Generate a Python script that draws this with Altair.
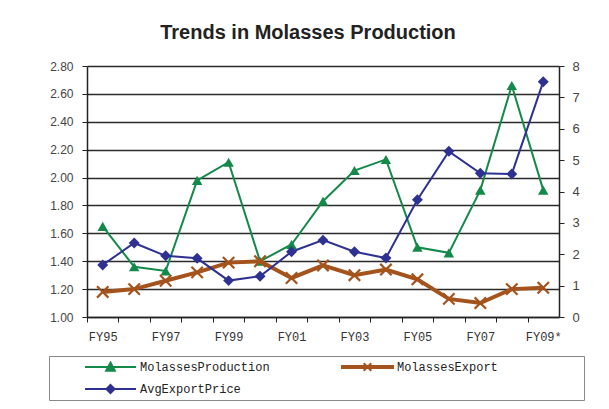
import altair as alt
import pandas as pd

categories = ["FY95", "FY96", "FY97", "FY98", "FY99", "FY00", "FY01", "FY02",
              "FY03", "FY04", "FY05", "FY06", "FY07", "FY08", "FY09*"]
production = [1.65, 1.36, 1.33, 1.98, 2.11, 1.40, 1.52, 1.83, 2.05, 2.13, 1.50, 1.46, 1.91, 2.66, 1.91]
export = [1.18, 1.20, 1.26, 1.32, 1.39, 1.40, 1.28, 1.37, 1.30, 1.34, 1.27, 1.13, 1.10, 1.20, 1.21]
price = [1.66, 2.36, 1.95, 1.87, 1.16, 1.30, 2.08, 2.45, 2.08, 1.88, 3.74, 5.28, 4.58, 4.56, 7.50]

series_names = ["MolassesProduction", "MolassesExport", "AvgExportPrice"]
series_colors = ["#13894a", "#a5531c", "#2e3192"]
legend_paths = [
    "M-1,0H1M-0.17,0.15L0,-0.17L0.17,0.15Z",
    "M-1,-0.04H1V0.04H-1ZM-0.15,-0.15L0.15,0.15M-0.15,0.15L0.15,-0.15",
    "M-1,0H1M0,-0.16L0.16,0L0,0.16L-0.16,0Z",
]
left_ticks = [1.0, 1.2, 1.4, 1.6, 1.8, 2.0, 2.2, 2.4, 2.6, 2.8]
right_ticks = [0, 1, 2, 3, 4, 5, 6, 7, 8]

W, H = 472, 251
half = W / len(categories) / 2

df = pd.DataFrame({"FY": categories, "production": production,
                   "export": export, "price": price})
legend_df = pd.DataFrame({"series": series_names})

x_enc = alt.X("FY:N", sort=categories,
              scale=alt.Scale(type="point", padding=0.5),
              axis=alt.Axis(title=None, tickOffset=-half, labelOffset=half,
                            labelExpr="parseInt(substring(datum.label,2,4)) % 2 == 1 ? datum.label : ''",
                            labelOverlap=False, labelAngle=0,
                            labelFont="Liberation Mono", labelFontSize=12, labelColor="#333",
                            labelPadding=9, tickSize=5, tickColor="#222",
                            domainColor="#222", domainWidth=1.5, grid=False))

left_scale = alt.Scale(domain=[1.0, 2.8], nice=False, zero=False)
left_axis = alt.Axis(title=None, orient="left", values=left_ticks, format=".2f",
                     grid=True, gridColor="#2a2a2a", gridWidth=1.3,
                     labelFont="Liberation Sans", labelFontSize=12, labelColor="#444",
                     labelPadding=9, tickSize=5, tickColor="#222",
                     domainColor="#222", domainWidth=1.5)
right_axis = alt.Axis(title=None, orient="right", values=right_ticks, format="d",
                      grid=False, labelFont="Liberation Sans", labelFontSize=13,
                      labelColor="#444", labelPadding=8, tickSize=5, tickColor="#222",
                      domainColor="#222", domainWidth=1.5)

base = alt.Chart(df)

green_line = base.mark_line(color=series_colors[0], strokeWidth=2).encode(
    x=x_enc, y=alt.Y("production:Q", scale=left_scale, axis=left_axis))
green_pts = base.mark_point(shape="triangle-up", filled=True, size=110, opacity=1,
                            color=series_colors[0]).encode(
    x=x_enc, y=alt.Y("production:Q", scale=left_scale, axis=left_axis))
brown_line = base.mark_line(color=series_colors[1], strokeWidth=4).encode(
    x=x_enc, y=alt.Y("export:Q", scale=left_scale, axis=left_axis))
brown_pts = base.mark_point(shape="M-1,-1L1,1M-1,1L1,-1", filled=False, size=130,
                            strokeWidth=2.2, opacity=1, color=series_colors[1]).encode(
    x=x_enc, y=alt.Y("export:Q", scale=left_scale, axis=left_axis))

filler = "\u2800" * 9
leg = alt.Legend(orient="none", legendX=-38, legendY=290, columns=2, direction="horizontal",
                 title=None, symbolSize=2601, symbolStrokeWidth=2, clipHeight=12,
                 rowPadding=10, columnPadding=41, symbolOffset=30, labelOffset=3,
                 labelLimit=300,
                 labelExpr="datum.value == 'MolassesExport' ? datum.label + '" + filler + "' : datum.label",
                 labelFont="Liberation Mono", labelFontSize=12, labelColor="#222",
                 padding=5, strokeColor="#888", symbolOpacity=1)
legend_layer = alt.Chart(legend_df).mark_point(clip=True, filled=True, opacity=1).encode(
    x=alt.value(-200), y=alt.value(-200),
    fill=alt.Fill("series:N", scale=alt.Scale(domain=series_names, range=series_colors), legend=leg),
    stroke=alt.Stroke("series:N", scale=alt.Scale(domain=series_names, range=series_colors), legend=leg),
    shape=alt.Shape("series:N", scale=alt.Scale(domain=series_names, range=legend_paths), legend=leg),
)

left = alt.layer(green_line, green_pts, brown_line, brown_pts, legend_layer)

blue_line = base.mark_line(color=series_colors[2], strokeWidth=2).encode(
    x=x_enc, y=alt.Y("price:Q", scale=alt.Scale(domain=[0, 8], nice=False), axis=right_axis))
blue_pts = base.mark_point(shape="diamond", filled=True, size=120, opacity=1,
                           color=series_colors[2]).encode(
    x=x_enc, y=alt.Y("price:Q", scale=alt.Scale(domain=[0, 8], nice=False), axis=right_axis))
right = alt.layer(blue_line, blue_pts)

chart = alt.layer(left, right).resolve_scale(y="independent").properties(
    width=W, height=H,
    autosize=alt.AutoSizeParams(type="none"),
    padding={"left": 79, "top": 58, "right": 42, "bottom": 84},
    title=alt.TitleParams("Trends in Molasses Production", font="Liberation Sans",
                          fontSize=20, fontWeight="bold", color="#222",
                          anchor="middle", dx=-15, offset=0, dy=-1, baseline="alphabetic"),
).configure_view(stroke="transparent")

chart.save("out.html", embed_options={"renderer": "svg", "actions": False})
